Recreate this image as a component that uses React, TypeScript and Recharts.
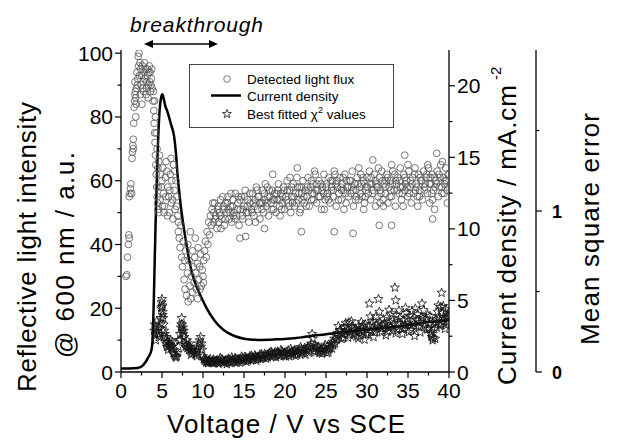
import React from 'react';
import { ComposedChart, Scatter, Line, XAxis, YAxis } from 'recharts';

// axis ticks
const voltageTicks = [0, 2.5, 5, 7.5, 10, 12.5, 15, 17.5, 20, 22.5, 25, 27.5, 30, 32.5, 35, 37.5, 40];
const lightTicks = [0, 10, 20, 30, 40, 50, 60, 70, 80, 90, 100];
const currentTicks = [0, 2.5, 5, 7.5, 10, 12.5, 15, 17.5, 20];
const mseTicks = [0, 0.5, 1, 1.5];

// detected light flux (V, a.u.)
const lightFlux: [number, number][] = [
  [0.6, 30], [0.7, 30.5], [0.8, 36], [0.9, 40], [1.0, 42], [0.95, 43],
  [1.0, 55], [1.1, 56], [1.15, 57.5], [1.2, 59], [1.3, 56],
  [1.35, 67], [1.4, 69], [1.45, 71], [1.5, 73], [1.55, 78],
  [1.6, 83], [1.65, 85], [1.7, 87], [1.75, 88], [1.8, 86], [1.85, 84], [1.9, 89],
  [2.0, 90], [2.05, 92], [2.1, 99], [2.2, 100], [2.3, 97], [2.4, 95], [2.5, 93], [2.6, 96], [2.7, 91],
  [2.8, 94], [2.9, 92], [3.0, 95], [3.1, 89], [3.2, 93], [3.3, 86], [3.4, 94], [3.5, 91], [3.6, 88],
  [3.7, 92], [3.8, 89], [3.9, 85], [2.35, 87], [2.55, 84], [2.75, 88], [2.45, 90], [3.05, 87],
  [3.25, 95], [3.45, 96], [3.55, 94], [3.65, 90],
  [1.95, 94], [2.15, 96], [2.25, 93], [2.65, 89], [2.85, 97], [3.15, 91], [3.35, 90], [3.75, 95],
  [1.7, 91], [1.8, 80], [1.5, 70], [3.95, 88],
  [4.0, 82], [4.05, 78], [4.1, 75], [4.15, 72], [4.2, 68], [4.25, 65], [4.3, 62], [4.35, 58],
  [4.4, 55], [4.45, 53], [4.5, 51], [4.6, 50], [4.1, 85], [4.2, 80], [4.3, 75], [4.4, 70], [4.5, 64], [4.55, 58],
  [4.6, 66], [4.7, 68], [4.8, 62], [4.9, 58], [5.0, 60], [5.1, 64], [5.2, 56], [5.3, 52], [5.4, 61],
  [5.5, 66], [5.6, 63], [5.7, 58], [5.8, 55], [5.9, 50], [6.0, 62], [6.1, 67], [6.2, 60], [6.3, 54],
  [6.4, 65], [6.5, 57], [6.6, 51], [6.7, 60], [6.8, 55], [4.75, 54], [5.05, 52], [5.25, 50], [5.45, 55],
  [5.65, 49], [5.95, 57], [6.15, 53], [6.35, 48], [6.55, 63], [6.75, 52], [6.9, 49], [7.0, 47],
  [7.0, 44], [7.1, 42], [7.2, 39], [7.3, 46], [7.4, 36], [7.5, 33], [7.6, 41], [7.7, 29], [7.8, 26],
  [7.9, 38], [8.0, 24], [8.1, 31], [8.2, 22], [8.3, 35], [8.4, 27], [8.5, 23], [8.6, 30], [8.7, 25],
  [8.8, 33], [8.9, 28], [9.0, 36], [9.1, 31], [9.2, 26], [9.3, 34], [9.4, 39], [9.5, 29], [9.6, 33],
  [9.7, 37], [9.8, 27], [9.9, 32], [10.0, 30], [10.1, 35], [10.2, 38], [10.3, 41], [10.4, 36],
  [10.5, 44], [10.6, 40], [10.7, 47], [10.8, 43], [10.9, 49], [11.0, 46], [7.75, 35], [8.15, 40],
  [8.45, 44], [8.75, 38], [9.05, 42], [9.35, 23], [9.65, 26], [10.05, 28],
  [11.1, 51], [11.25, 47], [11.4, 53], [11.55, 49], [11.7, 45], [11.85, 52], [12.0, 50], [12.15, 54],
  [12.3, 48], [12.45, 51], [12.6, 46], [12.75, 53], [12.9, 50], [13.05, 55], [13.2, 48], [13.35, 52],
  [13.5, 47], [13.65, 54], [13.8, 50], [13.95, 56], [14.1, 49], [14.25, 53], [14.4, 46], [14.55, 51],
  [14.7, 55], [14.85, 48], [15.0, 52], [15.15, 57], [15.3, 50], [15.45, 54], [15.6, 47], [15.75, 53],
  [15.9, 51], [16.05, 56], [16.2, 49], [16.35, 54], [16.5, 58], [16.65, 51], [16.8, 55], [16.95, 48],
  [17.1, 53], [17.25, 57], [17.4, 50], [17.55, 54], [17.7, 52], [17.85, 58], [18.0, 49], [18.15, 55],
  [18.3, 53], [18.45, 57], [18.6, 51], [18.75, 56], [18.9, 50], [19.05, 54], [19.2, 59], [19.35, 52],
  [19.5, 56], [19.65, 53], [19.8, 58], [19.95, 51], [20.1, 55], [20.25, 60], [20.4, 53], [20.55, 57],
  [20.7, 50], [20.85, 55], [21.0, 59], [21.15, 52], [21.3, 56], [21.45, 61], [21.6, 54], [21.75, 58],
  [21.9, 51], [22.05, 56], [22.2, 60], [22.35, 53], [22.5, 57], [22.65, 55], [22.8, 61], [22.95, 52],
  [23.1, 58], [23.25, 54], [23.4, 59], [23.55, 56], [23.7, 62], [23.85, 53], [24.0, 57], [24.15, 60],
  [24.3, 55], [24.45, 51], [24.6, 58], [24.75, 62], [24.9, 54], [25.05, 59], [25.2, 56], [25.35, 61],
  [25.5, 53], [25.65, 57], [25.8, 60], [25.95, 55], [26.1, 62], [26.25, 52], [26.4, 58], [26.55, 56],
  [26.7, 61], [26.85, 54], [27.0, 59], [27.15, 57], [27.3, 62], [27.45, 53], [27.6, 58], [27.75, 55],
  [27.9, 60], [28.05, 56], [28.2, 63], [28.35, 52], [28.5, 59], [28.65, 57], [28.8, 61], [28.95, 54],
  [29.1, 58], [29.25, 62], [29.4, 55], [29.55, 60], [29.7, 53], [29.85, 57], [30.0, 61], [30.15, 56],
  [30.3, 63], [30.45, 54], [30.6, 59], [30.75, 57], [30.9, 62], [31.05, 52], [31.2, 58], [31.35, 55],
  [31.5, 61], [31.65, 57], [31.8, 63], [31.95, 54], [32.1, 59], [32.25, 56], [32.4, 62], [32.55, 53],
  [32.7, 58], [32.85, 60], [33.0, 55], [33.15, 63], [33.3, 57], [33.45, 52], [33.6, 59], [33.75, 61],
  [33.9, 56], [34.05, 64], [34.2, 54], [34.35, 58], [34.5, 62], [34.65, 57], [34.8, 60], [34.95, 55],
  [35.1, 63], [35.25, 58], [35.4, 53], [35.55, 61], [35.7, 56], [35.85, 64], [36.0, 59], [36.15, 55],
  [36.3, 62], [36.45, 57], [36.6, 60], [36.75, 54], [36.9, 63], [37.05, 58], [37.2, 61], [37.35, 56],
  [37.5, 64], [37.65, 53], [37.8, 59], [37.95, 62], [38.1, 57], [38.25, 51], [38.4, 60], [38.55, 63],
  [38.7, 55], [38.85, 58], [39.0, 65], [39.15, 56], [39.3, 61], [39.45, 59], [39.6, 64], [39.75, 57],
  [39.9, 62],
  [11.3, 50], [11.9, 47], [12.5, 52], [13.1, 51], [13.7, 49], [14.3, 55], [14.9, 51], [15.5, 50],
  [16.1, 53], [16.7, 55], [17.3, 53], [17.9, 55], [18.5, 54], [19.1, 57], [19.7, 55], [20.3, 57],
  [20.9, 53], [21.5, 58], [22.1, 54], [22.7, 58], [23.3, 56], [23.9, 59], [24.5, 57], [25.1, 55],
  [25.7, 58], [26.3, 60], [26.9, 57], [27.5, 60], [28.1, 58], [28.7, 55], [29.3, 59], [29.9, 58],
  [30.5, 61], [31.1, 59], [31.7, 56], [32.3, 60], [32.9, 57], [33.5, 60], [34.1, 58], [34.7, 59],
  [35.3, 60], [35.9, 57], [36.5, 61], [37.1, 59], [37.7, 61], [38.3, 58], [38.9, 61], [39.5, 60],
  [40.0, 58], [39.8, 53], [12.2, 45], [16.4, 47], [19.4, 49], [21.8, 50], [24.8, 51], [27.2, 51],
  [29.6, 51], [32.0, 52], [34.4, 52], [36.2, 52], [38.0, 54], [13.4, 56], [17.6, 59], [20.6, 61],
  [23.6, 63], [26.0, 63], [29.0, 64], [31.4, 64], [33.0, 65], [35.0, 65], [37.4, 65], [39.2, 66],
  [11.2, 53], [11.5, 48], [11.8, 51], [12.1, 49], [12.4, 55], [12.7, 48], [13.0, 53], [13.3, 50],
  [13.6, 52], [13.9, 48], [14.2, 51], [14.5, 54], [14.8, 49], [15.1, 55], [15.4, 52], [15.7, 56],
  [16.0, 50], [16.3, 52], [16.6, 57], [16.9, 53], [17.2, 51], [17.5, 56], [17.8, 53], [18.1, 57],
  [18.4, 51], [18.7, 54], [19.0, 56], [19.3, 54], [19.6, 51], [19.9, 57], [20.2, 54], [20.5, 52],
  [20.8, 58], [21.1, 55], [21.4, 53], [21.7, 56], [22.0, 58], [22.3, 55], [22.6, 52], [22.9, 57],
  [23.2, 60], [23.5, 54], [23.8, 57], [24.1, 55], [24.4, 59], [24.7, 56], [25.0, 58], [25.3, 54],
  [25.6, 60], [25.9, 57], [26.2, 59], [26.5, 54], [26.8, 58], [27.1, 61], [27.4, 56], [27.7, 58],
  [28.0, 60], [28.3, 57], [28.6, 54], [28.9, 59], [29.2, 56], [29.5, 61], [29.8, 55], [30.1, 58],
  [30.4, 59], [30.7, 56], [31.0, 60], [31.3, 58], [31.6, 53], [31.9, 60], [32.2, 58], [32.5, 61],
  [32.8, 55], [33.1, 59], [33.4, 62], [33.7, 57], [34.0, 60], [34.3, 56], [34.6, 61], [34.9, 58],
  [35.2, 56], [35.5, 59], [35.8, 62], [36.1, 58], [36.4, 55], [36.7, 60], [37.0, 57], [37.3, 62],
  [37.6, 59], [37.9, 56], [38.2, 61], [38.5, 59], [38.8, 62], [39.1, 58], [39.4, 56], [39.7, 60],
  [40.0, 62],
  [14.5, 42], [15.2, 42.5], [17.5, 45], [22.0, 44], [26.0, 44], [28.3, 43.5], [30.7, 66.5],
  [34.6, 68], [38.5, 68.6], [31.5, 46], [33.0, 46], [38.0, 48], [21.5, 64], [18.5, 62],
];

// current density (V, mA/cm2)
const currentDensity: [number, number][] = [
  [0, 0.25], [1, 0.25], [2, 0.28], [2.5, 0.38], [3, 0.7], [3.3, 1.0], [3.7, 1.5], [3.85, 2.3],
  [4.0, 5], [4.1, 7.5], [4.2, 10], [4.35, 13], [4.5, 15.8], [4.7, 18.2], [4.9, 19.2], [5.05, 19.4],
  [5.2, 19.1], [5.4, 18.6], [5.66, 18.2], [6.1, 17.3], [6.48, 16.45], [6.7, 15.3], [6.88, 13.9],
  [7.1, 12.6], [7.3, 11.55], [7.6, 10.3], [7.9, 9.2], [8.2, 8.2], [8.5, 7.3], [9.0, 6.3], [9.8, 5.2],
  [10.5, 4.4], [11.4, 3.6], [12.0, 3.2], [12.6, 2.9], [13, 2.75], [14, 2.48], [15, 2.33], [16, 2.26],
  [17, 2.24], [18, 2.25], [19, 2.28], [20, 2.3], [21, 2.36], [22, 2.42], [23, 2.5], [24, 2.58],
  [25, 2.63], [26, 2.7], [27, 2.78], [28, 2.84], [29, 2.9], [30, 2.96], [31, 3.02], [32, 3.07],
  [33, 3.12], [34, 3.2], [35, 3.28], [36, 3.36], [37, 3.45], [38, 3.52], [39, 3.58], [40, 3.62],
];

// best fitted chi^2 (V, mean square error)
const chiSquared: [number, number][] = [
  [4.05, 0.256], [4.1, 0.295], [4.2, 0.236], [4.3, 0.276], [4.35, 0.315], [4.45, 0.256], [4.5, 0.236],
  [4.6, 0.217], [4.65, 0.276], [4.75, 0.236], [4.85, 0.335], [4.9, 0.394], [4.95, 0.433], [5.0, 0.453],
  [5.05, 0.413], [5.1, 0.374], [5.15, 0.335], [5.2, 0.295], [5.25, 0.256], [5.3, 0.217], [5.35, 0.236],
  [5.45, 0.197], [5.5, 0.177], [5.6, 0.157], [5.7, 0.187], [5.8, 0.157], [5.9, 0.177], [6.0, 0.167],
  [6.1, 0.148], [6.2, 0.157], [6.3, 0.138], [6.4, 0.118], [6.5, 0.108], [6.6, 0.098], [6.7, 0.089],
  [6.8, 0.098], [6.9, 0.118],
  [7.0, 0.157], [7.1, 0.197], [7.2, 0.236], [7.3, 0.276], [7.35, 0.295], [7.4, 0.335], [7.45, 0.295],
  [7.5, 0.256], [7.55, 0.276], [7.6, 0.236], [7.7, 0.217], [7.8, 0.177], [7.9, 0.157],
  [8.0, 0.167], [8.1, 0.148], [8.2, 0.157], [8.3, 0.138], [8.4, 0.157], [8.5, 0.128], [8.6, 0.138],
  [8.7, 0.118], [8.8, 0.138], [8.9, 0.118], [9.0, 0.128], [9.1, 0.108], [9.2, 0.118], [9.3, 0.138],
  [9.4, 0.157], [9.5, 0.177], [9.6, 0.197], [9.7, 0.217], [9.8, 0.177], [9.9, 0.138],
  [10.0, 0.098], [10.1, 0.079], [10.2, 0.069], [10.3, 0.079], [10.4, 0.059], [10.5, 0.069], [10.6, 0.055],
  [10.7, 0.069], [10.8, 0.059], [10.9, 0.079], [11.0, 0.063], [11.2, 0.071], [11.4, 0.055], [11.6, 0.067],
  [11.8, 0.059], [12.0, 0.075],
  [12.2, 0.063], [12.4, 0.071], [12.6, 0.057], [12.8, 0.075], [13.0, 0.065], [13.2, 0.077], [13.4, 0.061],
  [13.6, 0.079], [13.8, 0.069], [14.0, 0.083], [14.2, 0.067], [14.4, 0.081], [14.6, 0.073], [14.8, 0.087],
  [15.0, 0.077], [15.2, 0.091], [15.4, 0.079], [15.6, 0.085], [15.8, 0.075], [16.0, 0.093], [16.2, 0.083],
  [16.4, 0.098], [16.6, 0.087], [16.8, 0.094], [17.0, 0.081], [17.2, 0.102], [17.4, 0.091], [17.6, 0.106],
  [17.8, 0.096], [18.0, 0.11], [18.2, 0.098], [18.4, 0.118], [18.6, 0.104], [18.8, 0.124], [19.0, 0.108],
  [19.2, 0.12], [19.4, 0.102], [19.6, 0.13], [19.8, 0.114], [20.0, 0.122],
  [20.2, 0.106], [20.4, 0.134], [20.6, 0.116], [20.8, 0.126], [21.0, 0.11], [21.2, 0.138], [21.4, 0.12],
  [21.6, 0.13], [21.8, 0.112], [22.0, 0.142], [22.2, 0.124], [22.4, 0.15], [22.6, 0.132], [22.8, 0.157],
  [23.0, 0.14], [23.2, 0.177], [23.3, 0.236], [23.4, 0.207], [23.6, 0.167], [23.8, 0.148], [24.0, 0.134],
  [24.2, 0.118], [24.4, 0.142], [24.6, 0.126], [24.8, 0.154], [25.0, 0.136], [25.2, 0.163], [25.4, 0.14],
  [25.6, 0.173], [25.8, 0.187], [26.0, 0.207],
  [26.2, 0.226], [26.4, 0.242], [26.6, 0.217], [26.8, 0.26], [27.0, 0.236], [27.2, 0.276], [27.4, 0.305],
  [27.6, 0.256], [27.8, 0.309], [28.0, 0.246], [28.2, 0.28], [28.4, 0.232], [28.6, 0.268], [28.8, 0.244],
  [29.0, 0.287], [29.2, 0.226], [29.4, 0.272], [29.6, 0.248], [29.8, 0.295], [30.0, 0.26],
  [30.2, 0.285], [30.3, 0.425], [30.5, 0.25], [30.7, 0.315], [30.9, 0.264], [31.1, 0.345], [31.3, 0.276],
  [31.4, 0.453], [31.6, 0.305], [31.8, 0.246], [32.0, 0.327], [32.2, 0.272], [32.4, 0.339], [32.6, 0.282],
  [32.8, 0.311], [33.0, 0.364], [33.2, 0.256], [33.4, 0.524], [33.5, 0.445], [33.6, 0.354], [33.8, 0.303],
  [34.0, 0.335], [34.2, 0.268],
  [34.4, 0.323], [34.6, 0.291], [34.8, 0.366], [35.0, 0.295], [35.2, 0.35], [35.4, 0.26], [35.6, 0.325],
  [35.9, 0.394], [36.0, 0.287], [36.2, 0.358], [36.4, 0.309], [36.7, 0.425], [36.8, 0.335], [37.0, 0.28],
  [37.2, 0.331],
  [37.4, 0.354], [37.6, 0.299], [37.8, 0.236], [38.0, 0.197], [38.2, 0.266], [38.4, 0.327], [38.6, 0.374],
  [38.8, 0.343], [39.0, 0.404], [39.1, 0.492], [39.2, 0.366], [39.4, 0.315], [39.6, 0.39], [39.8, 0.35],
  [40.0, 0.374],
  [24.1, 0.157], [24.5, 0.114], [24.9, 0.169], [25.3, 0.122], [25.7, 0.146], [26.1, 0.177], [26.5, 0.285],
  [26.9, 0.205], [27.3, 0.252], [27.7, 0.213], [28.1, 0.315], [28.5, 0.26], [28.9, 0.209], [29.3, 0.311],
  [29.7, 0.201], [30.1, 0.232], [30.4, 0.345], [30.8, 0.217], [31.2, 0.295], [31.5, 0.374], [31.9, 0.291],
  [32.3, 0.228], [32.7, 0.386], [33.1, 0.319], [33.5, 0.24], [33.9, 0.382], [34.3, 0.236], [34.7, 0.398],
  [35.1, 0.248], [35.5, 0.378], [35.8, 0.224], [36.1, 0.323], [36.5, 0.246], [36.9, 0.384], [37.3, 0.264],
  [37.7, 0.347], [37.9, 0.217], [38.1, 0.311], [38.3, 0.207], [38.5, 0.276], [38.7, 0.413], [38.9, 0.287],
  [39.3, 0.409], [39.5, 0.268], [39.7, 0.335], [39.9, 0.307],
  [12.1, 0.087], [12.9, 0.049], [13.5, 0.091], [14.1, 0.057], [14.7, 0.096], [15.3, 0.063], [15.9, 0.102],
  [16.5, 0.071], [17.1, 0.112], [17.7, 0.083], [18.3, 0.126], [18.9, 0.091], [19.5, 0.136], [20.1, 0.096],
  [20.7, 0.144], [21.3, 0.1], [21.9, 0.154], [22.5, 0.108], [23.1, 0.161], [23.7, 0.122],
  [5.55, 0.217], [5.75, 0.138], [6.05, 0.197], [6.25, 0.187], [7.25, 0.197], [7.65, 0.256], [8.05, 0.197],
  [8.35, 0.177], [8.55, 0.108], [9.25, 0.098], [9.75, 0.157], [4.25, 0.197], [4.8, 0.295], [5.08, 0.354],
  [4.98, 0.404],
  [10.15, 0.083], [10.45, 0.063], [10.75, 0.075], [11.1, 0.057], [11.3, 0.077], [11.5, 0.065], [11.7, 0.073],
  [11.9, 0.051], [12.3, 0.081], [12.5, 0.061], [12.7, 0.069], [13.1, 0.083], [13.3, 0.055], [13.7, 0.063],
  [13.9, 0.087], [14.3, 0.075], [14.5, 0.059], [14.9, 0.069], [15.1, 0.094], [15.5, 0.071], [15.7, 0.098],
  [16.1, 0.077], [16.3, 0.104], [16.7, 0.081], [16.9, 0.106], [17.3, 0.087], [17.5, 0.112], [17.9, 0.091],
  [18.1, 0.118], [18.5, 0.096], [18.7, 0.114], [19.1, 0.128], [19.3, 0.098], [19.7, 0.122], [19.9, 0.104],
  [20.3, 0.118], [20.5, 0.098], [20.9, 0.122], [21.1, 0.13], [21.5, 0.108], [21.7, 0.14], [22.1, 0.118],
  [22.3, 0.136], [22.7, 0.146], [22.9, 0.12], [23.5, 0.13], [23.9, 0.157], [24.3, 0.13], [24.7, 0.144],
  [25.1, 0.118], [25.5, 0.154], [25.9, 0.165], [26.3, 0.2], [26.7, 0.26], [27.1, 0.211], [27.5, 0.283],
  [27.9, 0.23], [28.3, 0.27], [28.7, 0.22], [29.1, 0.256], [29.5, 0.29], [29.9, 0.236], [30.6, 0.3],
  [31.0, 0.25], [31.7, 0.27], [32.1, 0.3], [32.5, 0.25], [32.9, 0.28], [33.3, 0.3], [33.7, 0.26],
  [34.1, 0.3], [34.5, 0.27], [34.9, 0.33], [35.3, 0.29], [35.7, 0.3], [36.3, 0.28], [36.6, 0.34],
  [37.1, 0.3], [37.5, 0.27], [38.45, 0.3], [38.75, 0.33], [39.05, 0.3], [39.35, 0.34], [39.65, 0.29],
  [39.95, 0.35], [37.85, 0.25], [38.05, 0.21],
];

const toPoints = (rows: [number, number][]) => rows.map(([x, y]) => ({ x, y }));
const lightData = toPoints(lightFlux);
const currentData = toPoints(currentDensity);
const chiData = toPoints(chiSquared);

const FONT = 'Liberation Sans, Arial, sans-serif';

const starPath = (cx: number, cy: number, R: number, r: number) => {
  let d = '';
  for (let i = 0; i < 10; i++) {
    const rad = i % 2 === 0 ? R : r;
    const a = -Math.PI / 2 + (i * Math.PI) / 5;
    d += (i === 0 ? 'M' : 'L') + (cx + rad * Math.cos(a)).toFixed(2) + ',' + (cy + rad * Math.sin(a)).toFixed(2);
  }
  return d + 'Z';
};

const CircleDot = (props: any) => {
  const { cx, cy } = props;
  if (cx == null || cy == null) return null;
  return <circle cx={cx} cy={cy} r={3.4} fill="none" stroke="#555" strokeWidth={0.8} />;
};

const StarDot = (props: any) => {
  const { cx, cy } = props;
  if (cx == null || cy == null) return null;
  return <path d={starPath(cx, cy, 4.8, 2)} fill="none" stroke="#111" strokeWidth={0.8} />;
};

const BottomTick = (props: any) => {
  const { x, y, payload } = props;
  const major = payload.value % 5 === 0;
  return (
    <g>
      <line x1={x} y1={y} x2={x} y2={y + (major ? 6 : 3.5)} stroke="#000" strokeWidth={1.2} />
      {major && (
        <text x={x} y={y + 26} textAnchor="middle" fontSize={21} fontFamily={FONT} fill="#000">
          {payload.value}
        </text>
      )}
    </g>
  );
};

const LeftTick = (props: any) => {
  const { x, y, payload } = props;
  const major = payload.value % 20 === 0;
  return (
    <g>
      <line x1={x} y1={y} x2={x - (major ? 6 : 3.5)} y2={y} stroke="#000" strokeWidth={1.2} />
      {major && (
        <text x={x - 8} y={y + 7.5} textAnchor="end" fontSize={21} fontFamily={FONT} fill="#000">
          {payload.value}
        </text>
      )}
    </g>
  );
};

const CurrentTick = (props: any) => {
  const { x, y, payload } = props;
  const major = payload.value % 5 === 0;
  return (
    <g>
      <line x1={x} y1={y} x2={x + (major ? 6 : 3.5)} y2={y} stroke="#000" strokeWidth={1.2} />
      {major && (
        <text x={x + 8} y={y + 7.5} textAnchor="start" fontSize={21} fontFamily={FONT} fill="#000">
          {payload.value}
        </text>
      )}
    </g>
  );
};

const MseTick = (props: any) => {
  const { x, y, payload } = props;
  const major = payload.value % 1 === 0;
  return (
    <g>
      <line x1={x} y1={y} x2={x + (major ? 6 : 3.5)} y2={y} stroke="#000" strokeWidth={1.2} />
      {major && (
        <text x={x + 16} y={y + 6.5} textAnchor="start" fontSize={18} fontWeight="bold" fontFamily={FONT} fill="#000">
          {payload.value}
        </text>
      )}
    </g>
  );
};

function Overlay() {
  return (
    <svg
      width={629}
      height={443}
      style={{ position: 'absolute', left: 0, top: 0, pointerEvents: 'none' }}
      fontFamily={FONT}
    >
      {/* breakthrough annotation */}
      <text x={130} y={32} fontSize={21} fontStyle="italic" textLength={133} fill="#000">
        breakthrough
      </text>
      <line x1={150} y1={44} x2={212} y2={44} stroke="#000" strokeWidth={1.6} />
      <path d="M144,44 L153,40 L153,48 Z" fill="#000" />
      <path d="M218,44 L209,40 L209,48 Z" fill="#000" />

      {/* legend */}
      <rect x={189.5} y={64.5} width={204} height={63} fill="#fff" stroke="#444" strokeWidth={1} />
      <circle cx={227} cy={79} r={3.3} fill="none" stroke="#5a5a5a" strokeWidth={0.8} />
      <text x={247} y={84} fontSize={13.5} fill="#000">Detected light flux</text>
      <line x1={211} y1={95.5} x2={241} y2={95.5} stroke="#000" strokeWidth={2.5} />
      <text x={247} y={100.5} fontSize={13.5} fill="#000">Current density</text>
      <path d={starPath(227, 114, 4.6, 1.9)} fill="none" stroke="#111" strokeWidth={0.8} />
      <text x={247} y={119} fontSize={13.5} fill="#000">
        Best fitted χ
        <tspan fontSize={9} dy={-6}>2</tspan>
        <tspan dy={6}> values</tspan>
      </text>

      {/* axis titles */}
      <text
        transform="translate(27,247) rotate(-90)"
        textAnchor="middle"
        dominantBaseline="central"
        fontSize={26}
        textLength={290}
        fill="#000"
      >
        Reflective light intensity
      </text>
      <text
        transform="translate(65,255) rotate(-90)"
        textAnchor="middle"
        dominantBaseline="central"
        fontSize={26}
        textLength={206}
        fill="#000"
      >
        @ 600 nm / a.u.
      </text>
      <text x={286} y={433} textAnchor="middle" fontSize={26} textLength={238} fill="#000">
        Voltage / V vs SCE
      </text>
      <text
        transform="translate(507,385) rotate(-90)"
        textAnchor="start"
        dominantBaseline="central"
        fontSize={26}
        textLength={300}
        fill="#000"
      >
        Current density / mA.cm
      </text>
      <text
        transform="translate(495,80) rotate(-90)"
        textAnchor="start"
        dominantBaseline="central"
        fontSize={15}
        fill="#000"
      >
        -2
      </text>
      <text
        transform="translate(590,229) rotate(-90)"
        textAnchor="middle"
        dominantBaseline="central"
        fontSize={26}
        textLength={232}
        fill="#000"
      >
        Mean square error
      </text>
    </svg>
  );
}

export default function App() {
  return (
    <div style={{ position: 'absolute', left: 0, top: 0, width: 629, height: 443, background: '#fff' }}>
      <ComposedChart width={629} height={443} margin={{ top: 50, right: 0, bottom: 0, left: 0 }}>
        <XAxis
          type="number"
          dataKey="x"
          domain={[0, 40]}
          ticks={voltageTicks}
          interval={0}
          height={71}
          tickSize={0}
          tickMargin={0}
          tickLine={false}
          tick={<BottomTick />}
          axisLine={{ stroke: '#000', strokeWidth: 1.3 }}
          allowDataOverflow
        />
        <YAxis
          yAxisId="light"
          type="number"
          dataKey="y"
          domain={[0, 101]}
          ticks={lightTicks}
          interval={0}
          width={121}
          tickSize={0}
          tickMargin={0}
          tickLine={false}
          tick={<LeftTick />}
          axisLine={{ stroke: '#000', strokeWidth: 1.3 }}
          allowDataOverflow
        />
        <YAxis
          yAxisId="current"
          orientation="right"
          type="number"
          dataKey="y"
          domain={[0, 22.5]}
          ticks={currentTicks}
          interval={0}
          width={87}
          tickSize={0}
          tickMargin={0}
          tickLine={false}
          tick={<CurrentTick />}
          axisLine={{ stroke: '#000', strokeWidth: 1.3 }}
          allowDataOverflow
        />
        <YAxis
          yAxisId="mse"
          orientation="right"
          type="number"
          dataKey="y"
          domain={[0, 2]}
          ticks={mseTicks}
          interval={0}
          width={93}
          tickSize={0}
          tickMargin={0}
          tickLine={false}
          tick={<MseTick />}
          axisLine={{ stroke: '#000', strokeWidth: 1.3 }}
          allowDataOverflow
        />
        <Scatter
          yAxisId="light"
          data={lightData}
          dataKey="y"
          shape={<CircleDot />}
          isAnimationActive={false}
        />
        <Scatter
          yAxisId="mse"
          data={chiData}
          dataKey="y"
          shape={<StarDot />}
          isAnimationActive={false}
        />
        <Line
          yAxisId="current"
          data={currentData}
          dataKey="y"
          type="monotone"
          stroke="#000"
          strokeWidth={2.5}
          dot={false}
          activeDot={false}
          isAnimationActive={false}
        />
      </ComposedChart>
      <Overlay />
    </div>
  );
}
